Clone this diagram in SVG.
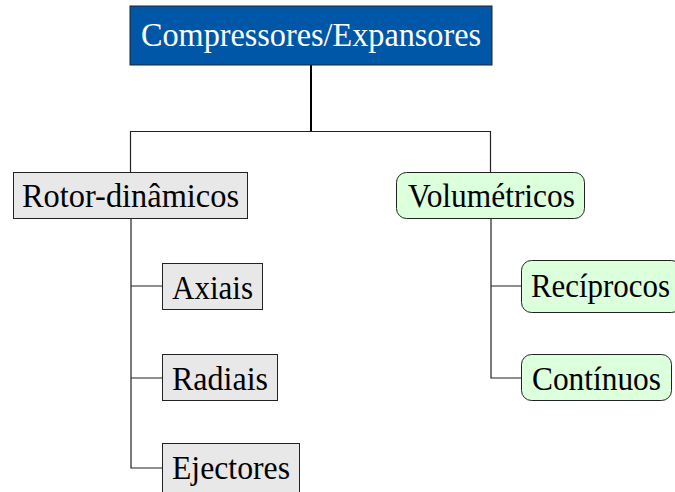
<svg xmlns="http://www.w3.org/2000/svg" width="675" height="492" viewBox="0 0 675 492">
<style>
text{font-family:"Liberation Serif","DejaVu Serif",serif;font-size:33px;fill:#000}
.gray{fill:#e8e8e8;stroke:#222;stroke-width:1}
.green{fill:#dcffdc;stroke:#222;stroke-width:1}
.conn{fill:none;stroke:#222;stroke-width:1.2}
</style>
<rect width="675" height="492" fill="#fff"/>
<g id="connectors">
<path d="M311 65V131" fill="none" stroke="#000" stroke-width="2"/>
<path class="conn" d="M130.5 172V131.5H490.5V172"/>
<path class="conn" d="M131 219V468H162M131 286H162M131 378H162"/>
<path class="conn" d="M491 219V378H521M491 286H521"/>
</g>
<g id="root">
<rect x="130" y="6" width="362" height="59" fill="#0057a8" stroke="#222" stroke-width="1"/>
<text x="141" y="46" textLength="340" lengthAdjust="spacingAndGlyphs" style="fill:#fff">Compressores/Expansores</text>
</g>
<g id="rotor">
<rect class="gray" x="13.5" y="172.5" width="234" height="46"/>
<text x="22" y="207" textLength="217" lengthAdjust="spacingAndGlyphs">Rotor-dinâmicos</text>
</g>
<g id="axiais">
<rect class="gray" x="162.5" y="263.5" width="100" height="46"/>
<text x="172" y="299" textLength="81" lengthAdjust="spacingAndGlyphs">Axiais</text>
</g>
<g id="radiais">
<rect class="gray" x="162.5" y="354.5" width="115" height="46"/>
<text x="172" y="390" textLength="96" lengthAdjust="spacingAndGlyphs">Radiais</text>
</g>
<g id="ejectores">
<rect class="gray" x="162.5" y="443.5" width="137" height="52"/>
<text x="172" y="479" textLength="118" lengthAdjust="spacingAndGlyphs">Ejectores</text>
</g>
<g id="volumetricos">
<rect class="green" x="396.5" y="172.5" width="188" height="46" rx="10"/>
<text x="408" y="207" textLength="167" lengthAdjust="spacingAndGlyphs">Volumétricos</text>
</g>
<g id="reciprocos">
<rect class="green" x="521.5" y="260.5" width="160" height="52" rx="10"/>
<text x="531" y="297" textLength="139" lengthAdjust="spacingAndGlyphs">Recíprocos</text>
</g>
<g id="continuos">
<rect class="green" x="521.5" y="354.5" width="150" height="46" rx="10"/>
<text x="532" y="390" textLength="129" lengthAdjust="spacingAndGlyphs">Contínuos</text>
</g>
</svg>
